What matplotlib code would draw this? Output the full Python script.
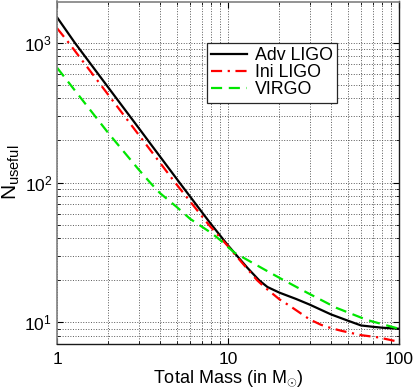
import matplotlib
matplotlib.use("Agg")
import matplotlib.pyplot as plt
from matplotlib.ticker import LogLocator, NullFormatter, FixedLocator, FixedFormatter

plt.rcParams['font.family'] = ['Liberation Sans', 'DejaVu Sans']
plt.rcParams['mathtext.fontset'] = 'custom'
plt.rcParams['mathtext.rm'] = 'Liberation Sans'
plt.rcParams['mathtext.it'] = 'Liberation Sans:italic'
plt.rcParams['mathtext.bf'] = 'Liberation Sans:bold'

# ---- data ----
adv_mass = [1, 1.27, 2, 3, 3.5, 5.2, 7.8, 10, 11, 13, 15.2, 17, 20, 25, 30, 40, 50, 60, 70, 80, 100]
adv_n    = [1520, 1000, 476, 246, 191, 100, 52, 35.5, 31, 24.5, 20, 17.9, 16.3, 14.7, 13.4, 11.4, 10.3, 9.5, 9.3, 9.15, 9.0]

ini_mass = [1, 1.17, 2, 3, 4.9, 7.7, 10, 11, 14.8, 16.5, 20, 23, 30, 35, 40, 46, 60, 76, 100]
ini_n    = [1270, 1000, 422, 220, 100, 50, 35, 30.5, 20, 17.7, 14.6, 13.1, 10.5, 9.6, 9.1, 8.7, 8.1, 7.8, 7.25]

virgo_mass = [1, 2, 3, 3.5, 4, 5, 6, 7, 8, 9, 10, 11, 16.5, 20, 29, 43, 65, 100]
virgo_n    = [663, 225, 124, 100, 84, 67, 55, 48.5, 43.5, 38.8, 34.5, 31.3, 23.7, 20.8, 16.3, 12.7, 10.4, 9.0]

series_labels = ["Adv LIGO", "Ini LIGO", "VIRGO"]
x_tick_vals = [1, 10, 100]
x_tick_labels = ["1", "10", "100"]

fig = plt.figure(figsize=(4.15, 3.88), dpi=100)
ax = fig.add_axes([57/415, 1-344/388, (399-57)/415, (344-1.5)/388])

ax.plot(adv_mass, adv_n, color='black', lw=1.6, ls='-', label=series_labels[0])
ax.plot(ini_mass, ini_n, color='#ff0000', lw=1.6, ls=(0, (5, 2.5, 1, 2.5)), label=series_labels[1])
ax.plot(virgo_mass, virgo_n, color='#00e600', lw=1.6, ls=(0, (5, 3)), label=series_labels[2])

ax.set_xscale('log')
ax.set_yscale('log')
ax.set_xlim(1, 100)
ax.set_ylim(7.0, 1970)

ax.xaxis.set_major_locator(FixedLocator(x_tick_vals))
ax.xaxis.set_major_formatter(FixedFormatter(x_tick_labels))
ax.xaxis.set_minor_locator(LogLocator(base=10, subs=range(2, 10)))
ax.xaxis.set_minor_formatter(NullFormatter())
ax.yaxis.set_major_locator(LogLocator(base=10, numticks=10))
ax.yaxis.set_minor_locator(LogLocator(base=10, subs=range(2, 10), numticks=20))
ax.yaxis.set_minor_formatter(NullFormatter())

ax.grid(True, which='both', ls=':', color='0.35', lw=0.7)
ax.tick_params(which='both', direction='in', top=True, right=True, labelsize=12.5)
ax.tick_params(which='major', length=4)
ax.tick_params(which='minor', length=2)
ax.tick_params(axis='x', pad=6)

for s in ['left', 'top']:
    ax.spines[s].set_color('0.5')
    ax.spines[s].set_linewidth(1.2)
for s in ['bottom', 'right']:
    ax.spines[s].set_color('0.1')
    ax.spines[s].set_linewidth(1.0)

ax.set_xlabel(r'Total Mass (in M$_{\odot}$)', fontsize=13, labelpad=1)
ax.set_ylabel(r'N$_{\mathrm{useful}}$', fontsize=15, labelpad=2)

leg = ax.legend(loc='upper right', bbox_to_anchor=(0.819, 0.879), fontsize=12.8,
                frameon=True, fancybox=False, framealpha=1, edgecolor='0.15',
                borderpad=0.25, labelspacing=0.0, handlelength=2.0, handletextpad=0.45,
                borderaxespad=0)
leg.get_frame().set_linewidth(0.9)

fig.savefig('out.png', dpi=100)
